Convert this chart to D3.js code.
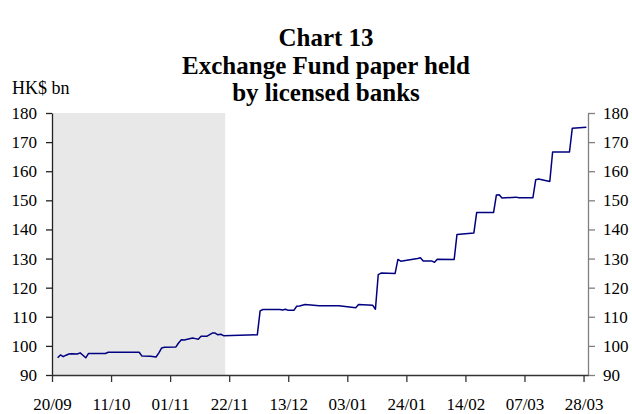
<!DOCTYPE html>
<html>
<head>
<meta charset="utf-8">
<script src="https://cdn.jsdelivr.net/npm/d3@7"></script>
<style>
  body { margin: 0; background: #fff; }
  text { font-family: "Liberation Serif", "Times New Roman", serif; }
</style>
</head>
<body>
<div id="chart"></div>
<script>
// Data (HK$ bn)
const dates = [
  "1998-09-22", "1998-09-23", "1998-09-24", "1998-09-25", "1998-09-26", "1998-09-27",
  "1998-09-29", "1998-09-30", "1998-10-01", "1998-10-02", "1998-10-03", "1998-10-09",
  "1998-10-10", "1998-10-21", "1998-10-22", "1998-10-25", "1998-10-27", "1998-10-28",
  "1998-10-29", "1998-10-30", "1998-11-03", "1998-11-04", "1998-11-05", "1998-11-06",
  "1998-11-09", "1998-11-10", "1998-11-11", "1998-11-12", "1998-11-14", "1998-11-16",
  "1998-11-17", "1998-11-18", "1998-11-19", "1998-11-20", "1998-12-02", "1998-12-03",
  "1998-12-04", "1998-12-10", "1998-12-11", "1998-12-12", "1998-12-13", "1998-12-15",
  "1998-12-16", "1998-12-17", "1998-12-19", "1998-12-24", "1998-12-31", "1999-01-06",
  "1999-01-07", "1999-01-12", "1999-01-13", "1999-01-14", "1999-01-15", "1999-01-20",
  "1999-01-21", "1999-01-22", "1999-01-28", "1999-01-29", "1999-01-30", "1999-02-02",
  "1999-02-03", "1999-02-04", "1999-02-10", "1999-02-11", "1999-02-17", "1999-02-18",
  "1999-02-24", "1999-02-25", "1999-02-26", "1999-02-27", "1999-03-04", "1999-03-05",
  "1999-03-10", "1999-03-11", "1999-03-12", "1999-03-16", "1999-03-17", "1999-03-23",
  "1999-03-24", "1999-03-29"
];
const values = [
  95.9, 96.9, 96.3, 96.8, 97.2, 97.3,
  97.2, 97.6, 96.8, 95.9, 97.4, 97.4,
  97.8, 97.8, 96.5, 96.4, 96.2, 97.6,
  99.3, 99.5, 99.6, 101.0, 102.1, 102.0,
  102.7, 102.5, 102.3, 103.3, 103.3, 104.4,
  104.4, 103.8, 104.0, 103.5, 103.8, 112.0,
  112.5, 112.5, 112.3, 112.6, 112.2, 112.2,
  113.6, 113.7, 114.2, 113.8, 113.8, 113.1,
  114.2, 114.0, 112.6, 124.5, 125.0, 124.9,
  129.7, 129.1, 130.0, 130.3, 129.2, 129.2,
  128.7, 129.8, 129.7, 138.3, 138.8, 145.8,
  145.8, 151.8, 151.9, 150.8, 151.1, 150.9,
  150.9, 157.1, 157.3, 156.5, 166.6, 166.6,
  174.8, 175.1
];
const tickDates = ["1998-09-20", "1998-10-11", "1998-11-01", "1998-11-22", "1998-12-13",
  "1999-01-03", "1999-01-24", "1999-02-14", "1999-03-07", "1999-03-28"];
const tickLabels = ["20/09", "11/10", "01/11", "22/11", "13/12", "03/01", "24/01", "14/02", "07/03", "28/03"];
const yTicks = [90, 100, 110, 120, 130, 140, 150, 160, 170, 180];
const shadePeriod = ["1998-09-20", "1998-11-20T14:00"];
const titleLines = ["Chart 13", "Exchange Fund paper held", "by licensed banks"];
const unitLabel = "HK$ bn";

const W = 632, H = 414;
const plotLeft = 52, plotRight = 588, plotTop = 113, plotBottom = 375;

const parse = s => new Date(s.length > 10 ? s : s + "T00:00");
const series = dates.map((d, i) => ({ date: parse(d), value: values[i] }));

const svg = d3.select("#chart").append("svg")
  .attr("width", W).attr("height", H);

const x = d3.scaleTime()
  .domain([parse("1998-09-20"), parse("1999-03-29T14:00")])
  .range([plotLeft, plotRight]);
const y = d3.scaleLinear().domain([90, 180]).range([plotBottom, plotTop]);

// shaded period
svg.append("rect")
  .attr("x", x(parse(shadePeriod[0])))
  .attr("y", y(180))
  .attr("width", x(parse(shadePeriod[1])) - x(parse(shadePeriod[0])))
  .attr("height", y(90) - y(180))
  .attr("fill", "#e8e8e8");

// title
svg.append("g").selectAll("text")
  .data(titleLines)
  .join("text")
  .attr("x", 326)
  .attr("y", (d, i) => 46 + i * 27.5)
  .attr("text-anchor", "middle")
  .attr("font-size", 25)
  .attr("font-weight", "bold")
  .text(d => d);

svg.append("text")
  .attr("x", 12).attr("y", 94)
  .attr("font-size", 18)
  .text(unitLabel);

function styleAxis(g, color) {
  g.selectAll("path, line").attr("stroke", color).attr("stroke-width", 1.3);
  g.selectAll("text").attr("fill", "#000").attr("font-size", 17)
    .attr("font-family", "Liberation Serif, Times New Roman, serif");
}

svg.append("g")
  .attr("transform", `translate(${plotLeft},0)`)
  .call(d3.axisLeft(y).tickValues(yTicks).tickSize(6).tickSizeOuter(0).tickPadding(9))
  .call(g => styleAxis(g, "#222"));

svg.append("g")
  .attr("transform", `translate(${plotRight},0)`)
  .call(d3.axisRight(y).tickValues(yTicks).tickSize(7).tickSizeOuter(0).tickPadding(8))
  .call(g => styleAxis(g, "#808080"));

svg.append("g")
  .attr("transform", `translate(0,${plotBottom})`)
  .call(d3.axisBottom(x).tickValues(tickDates.map(parse))
    .tickFormat((d, i) => tickLabels[i]).tickSize(7).tickSizeOuter(0).tickPadding(16))
  .call(g => styleAxis(g, "#333"));

// series line
svg.append("path")
  .datum(series)
  .attr("fill", "none")
  .attr("stroke", "#000080")
  .attr("stroke-width", 1.5)
  .attr("stroke-linejoin", "round")
  .attr("d", d3.line().x(d => x(d.date)).y(d => y(d.value)));
</script>
</body>
</html>
